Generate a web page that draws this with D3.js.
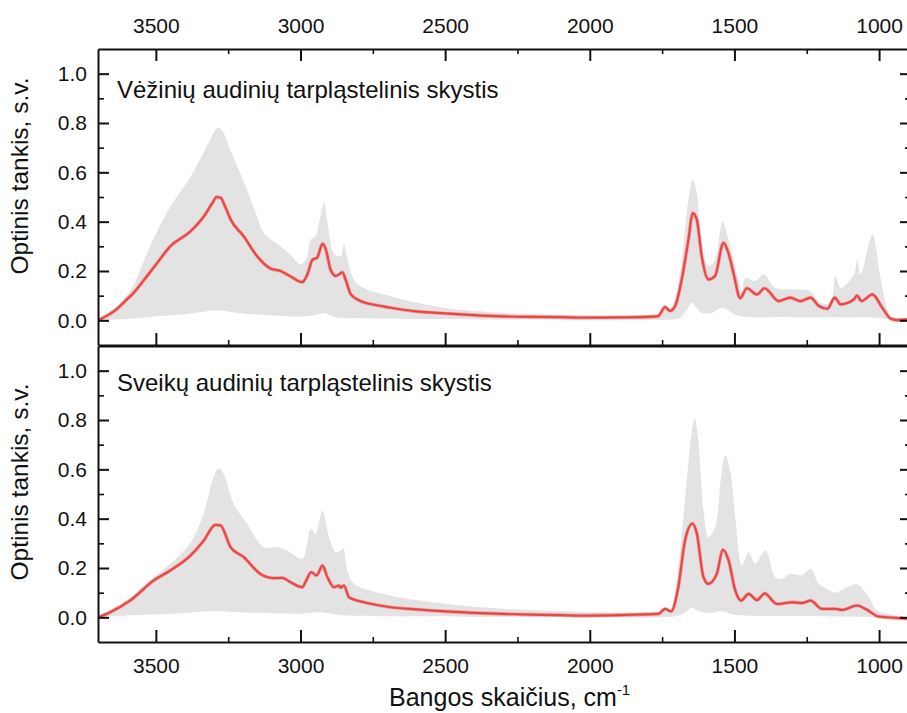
<!DOCTYPE html>
<html>
<head>
<meta charset="utf-8">
<script src="https://cdn.jsdelivr.net/npm/d3@7"></script>
<style>
  body { margin: 0; background: #fff; }
  text { font-family: "Liberation Sans", Arial, sans-serif; fill: #111; }
</style>
</head>
<body>
<div id="chart"></div>
<script>
// data: [wavenumber cm-1, optical density]
const cancerMean = [[3700,0.0],[3660,0.025],[3641,0.04],[3600,0.085],[3578,0.11],[3540,0.165],[3497,0.23],[3450,0.30],[3381,0.36],[3335,0.42],[3305,0.475],[3290,0.50],[3277,0.498],[3260,0.46],[3242,0.41],[3196,0.34],[3150,0.26],[3104,0.21],[3069,0.20],[3030,0.175],[2994,0.155],[2975,0.19],[2959,0.245],[2942,0.255],[2924,0.31],[2913,0.29],[2896,0.205],[2878,0.18],[2862,0.19],[2855,0.195],[2844,0.165],[2826,0.105],[2792,0.078],[2740,0.062],[2688,0.051],[2600,0.036],[2500,0.028],[2400,0.021],[2300,0.016],[2200,0.014],[2100,0.013],[2029,0.011],[1900,0.012],[1800,0.014],[1763,0.017],[1752,0.035],[1740,0.054],[1723,0.038],[1705,0.058],[1682,0.166],[1659,0.327],[1644,0.435],[1630,0.408],[1613,0.26],[1590,0.166],[1567,0.18],[1538,0.314],[1520,0.27],[1503,0.19],[1480,0.09],[1457,0.13],[1422,0.105],[1396,0.13],[1347,0.078],[1307,0.092],[1272,0.078],[1237,0.092],[1208,0.058],[1179,0.047],[1153,0.092],[1133,0.065],[1087,0.085],[1076,0.10],[1061,0.078],[1023,0.105],[989,0.051],[960,0.007],[937,0.001],[900,0.004]];
const cancerMax = [[3700,0.0],[3650,0.04],[3612,0.085],[3578,0.14],[3550,0.215],[3520,0.30],[3450,0.46],[3381,0.58],[3335,0.68],[3300,0.76],[3289,0.78],[3271,0.77],[3242,0.69],[3185,0.53],[3150,0.42],[3127,0.355],[3069,0.30],[3030,0.26],[3000,0.226],[2980,0.25],[2965,0.327],[2948,0.34],[2935,0.40],[2919,0.48],[2910,0.42],[2901,0.355],[2884,0.27],[2860,0.26],[2850,0.31],[2840,0.26],[2815,0.165],[2780,0.13],[2688,0.098],[2600,0.072],[2500,0.05],[2400,0.038],[2300,0.03],[2200,0.026],[2100,0.022],[2000,0.02],[1900,0.018],[1800,0.018],[1765,0.022],[1752,0.04],[1740,0.065],[1725,0.045],[1705,0.09],[1682,0.246],[1659,0.49],[1644,0.57],[1630,0.516],[1613,0.287],[1590,0.22],[1567,0.246],[1541,0.40],[1520,0.327],[1486,0.166],[1474,0.118],[1463,0.172],[1428,0.159],[1399,0.186],[1359,0.132],[1278,0.125],[1237,0.118],[1208,0.072],[1168,0.072],[1151,0.18],[1133,0.132],[1087,0.186],[1076,0.246],[1064,0.186],[1023,0.347],[1000,0.206],[983,0.098],[960,0.017],[931,0.011],[900,0.004]];
const cancerMin = [[3700,0.0],[3600,0.005],[3497,0.017],[3400,0.025],[3289,0.04],[3200,0.028],[3100,0.02],[3000,0.016],[2950,0.022],[2919,0.03],[2880,0.012],[2800,0.008],[2600,0.005],[2300,0.003],[2000,0.002],[1760,0.002],[1700,0.005],[1682,0.017],[1660,0.05],[1648,0.072],[1630,0.05],[1613,0.03],[1580,0.03],[1541,0.05],[1500,0.025],[1470,0.015],[1300,0.013],[1100,0.012],[1000,0.01],[960,0.002],[900,0.0]];

const healthyMean = [[3700,0.0],[3659,0.02],[3589,0.068],[3508,0.149],[3450,0.19],[3381,0.25],[3335,0.31],[3294,0.375],[3277,0.373],[3242,0.285],[3196,0.244],[3139,0.176],[3092,0.159],[3063,0.16],[3034,0.142],[2994,0.122],[2980,0.15],[2963,0.183],[2944,0.17],[2924,0.21],[2907,0.163],[2884,0.122],[2867,0.129],[2861,0.12],[2850,0.129],[2832,0.081],[2780,0.061],[2688,0.041],[2600,0.032],[2500,0.024],[2400,0.018],[2300,0.014],[2200,0.011],[2100,0.009],[2029,0.007],[1900,0.009],[1763,0.014],[1740,0.034],[1719,0.024],[1694,0.122],[1671,0.31],[1645,0.38],[1630,0.34],[1607,0.163],[1590,0.136],[1561,0.176],[1540,0.274],[1520,0.23],[1497,0.108],[1477,0.068],[1451,0.095],[1422,0.07],[1396,0.097],[1353,0.054],[1301,0.061],[1266,0.058],[1237,0.068],[1197,0.034],[1151,0.034],[1127,0.03],[1076,0.048],[1047,0.034],[1000,0.003],[942,-0.002],[900,-0.006]];
const healthyMax = [[3700,0.0],[3589,0.08],[3508,0.163],[3450,0.217],[3381,0.30],[3335,0.42],[3300,0.57],[3283,0.603],[3266,0.583],[3231,0.46],[3185,0.38],[3127,0.285],[3081,0.285],[3046,0.271],[2994,0.237],[2980,0.28],[2965,0.36],[2948,0.34],[2935,0.39],[2924,0.434],[2901,0.325],[2878,0.264],[2861,0.271],[2852,0.28],[2838,0.19],[2815,0.136],[2688,0.088],[2600,0.07],[2500,0.055],[2400,0.043],[2300,0.035],[2200,0.03],[2100,0.025],[2000,0.022],[1900,0.02],[1800,0.018],[1752,0.03],[1740,0.04],[1720,0.035],[1694,0.203],[1671,0.474],[1648,0.745],[1637,0.806],[1625,0.718],[1607,0.434],[1590,0.325],[1567,0.366],[1546,0.57],[1532,0.657],[1515,0.596],[1497,0.406],[1474,0.21],[1451,0.264],[1428,0.217],[1393,0.271],[1359,0.163],[1335,0.156],[1307,0.176],[1266,0.17],[1237,0.197],[1208,0.136],[1174,0.111],[1151,0.10],[1122,0.115],[1076,0.133],[1036,0.081],[1007,0.027],[966,0.014],[900,-0.002]];
const healthyMin = [[3700,0.0],[3589,0.008],[3450,0.015],[3294,0.025],[3200,0.02],[3000,0.015],[2924,0.02],[2850,0.008],[2700,0.004],[2300,0.002],[1760,0.0],[1700,0.005],[1665,0.025],[1648,0.04],[1625,0.025],[1580,0.018],[1541,0.025],[1500,0.01],[1300,0.005],[1000,0.0],[900,-0.005]];

const panelTitles = ["Vėžinių audinių tarpląstelinis skystis", "Sveikų audinių tarpląstelinis skystis"];
const xMajorTicks = [3500, 3000, 2500, 2000, 1500, 1000];
const xMinorTicks = [3250, 2750, 2250, 1750, 1250];
const yMajorTicks = [0, 0.2, 0.4, 0.6, 0.8, 1.0];
const yMinorTicks = [0.1, 0.3, 0.5, 0.7, 0.9];

// layout
const WIDTH = 907;
const HEIGHT = 713;
const LEFT = 98;
const RIGHT = 908;
const LINE_COLOR = "#e64848";
const BAND_COLOR = "#e3e3e3";

const panels = [
  { top: 49, bottom: 345, mean: cancerMean, hi: cancerMax, lo: cancerMin, title: panelTitles[0], titleY: 98, labelY: 176, topLabels: true, bottomLabels: false },
  { top: 346, bottom: 642, mean: healthyMean, hi: healthyMax, lo: healthyMin, title: panelTitles[1], titleY: 391, labelY: 482, topLabels: false, bottomLabels: true }
];

const svg = d3.select("#chart")
  .append("svg")
  .attr("width", WIDTH)
  .attr("height", HEIGHT);

const x = d3.scaleLinear().domain([3700, 900]).range([LEFT, RIGHT]);

svg.append("defs")
  .selectAll("clipPath")
  .data(panels)
  .enter()
  .append("clipPath")
  .attr("id", (d, i) => "clip" + i)
  .append("rect")
  .attr("x", LEFT)
  .attr("y", d => d.top)
  .attr("width", RIGHT - LEFT)
  .attr("height", d => d.bottom - d.top);

function styleAxis(g, width) {
  g.selectAll(".domain").attr("stroke", "#111").attr("stroke-width", 2);
  g.selectAll(".tick line").attr("stroke", "#111").attr("stroke-width", width);
  g.selectAll(".tick text").attr("font-size", 21).attr("fill", "#111")
    .attr("font-family", "'Liberation Sans', Arial, sans-serif");
}

panels.forEach((p, i) => {
  const y = d3.scaleLinear().domain([-0.1, 1.1]).range([p.bottom, p.top]);

  const line = d3.line()
    .x(d => x(d[0]))
    .y(d => y(d[1]))
    .curve(d3.curveMonotoneX);

  const band = d3.line()
    .x(d => x(d[0]))
    .y(d => y(d[1]))
    .curve(d3.curveCatmullRomClosed.alpha(0.5));

  const plot = svg.append("g").attr("clip-path", `url(#clip${i})`);

  // min–max band
  plot.append("path")
    .attr("d", band(p.hi.concat(p.lo.slice().reverse())))
    .attr("fill", BAND_COLOR)
    .attr("stroke", "none");

  // mean spectrum, soft halo under the line
  plot.append("path")
    .attr("d", line(p.mean))
    .attr("fill", "none")
    .attr("stroke", "#f3a0a0")
    .attr("stroke-width", 3.6)
    .attr("stroke-linejoin", "round");
  plot.append("path")
    .attr("d", line(p.mean))
    .attr("fill", "none")
    .attr("stroke", LINE_COLOR)
    .attr("stroke-width", 2.2)
    .attr("stroke-linejoin", "round");

  // top axis
  const gTop = svg.append("g").attr("transform", `translate(0,${p.top})`)
    .call(d3.axisTop(x).tickValues(xMajorTicks).tickSizeInner(p.topLabels ? -12 : 0).tickSizeOuter(0).tickPadding(16)
      .tickFormat(p.topLabels ? d3.format("d") : ""));
  styleAxis(gTop, 2);
  if (p.topLabels) {
    svg.append("g").attr("transform", `translate(0,${p.top})`)
      .call(d3.axisTop(x).tickValues(xMinorTicks).tickSizeInner(-5).tickSizeOuter(0).tickFormat(""))
      .call(g => g.select(".domain").remove())
      .call(g => styleAxis(g, 1.6));
  }

  // bottom axis
  const gBottom = svg.append("g").attr("transform", `translate(0,${p.bottom})`)
    .call(d3.axisBottom(x).tickValues(xMajorTicks).tickSizeInner(-12).tickSizeOuter(0).tickPadding(16)
      .tickFormat(p.bottomLabels ? d3.format("d") : ""));
  styleAxis(gBottom, 2);
  svg.append("g").attr("transform", `translate(0,${p.bottom})`)
    .call(d3.axisBottom(x).tickValues(xMinorTicks).tickSizeInner(-5).tickSizeOuter(0).tickFormat(""))
    .call(g => g.select(".domain").remove())
    .call(g => styleAxis(g, 1.6));

  // left axis
  const gLeft = svg.append("g").attr("transform", `translate(${LEFT},0)`)
    .call(d3.axisLeft(y).tickValues(yMajorTicks).tickSizeInner(-11).tickSizeOuter(0).tickPadding(11)
      .tickFormat(d3.format(".1f")));
  styleAxis(gLeft, 2);
  svg.append("g").attr("transform", `translate(${LEFT},0)`)
    .call(d3.axisLeft(y).tickValues(yMinorTicks).tickSizeInner(-6).tickSizeOuter(0).tickFormat(""))
    .call(g => g.select(".domain").remove())
    .call(g => styleAxis(g, 1.6));

  // right axis
  const gRight = svg.append("g").attr("transform", `translate(${RIGHT},0)`)
    .call(d3.axisRight(y).tickValues(yMajorTicks).tickSizeInner(-8).tickSizeOuter(0).tickFormat(""));
  styleAxis(gRight, 2);
  svg.append("g").attr("transform", `translate(${RIGHT},0)`)
    .call(d3.axisRight(y).tickValues(yMinorTicks).tickSizeInner(-3).tickSizeOuter(0).tickFormat(""))
    .call(g => g.select(".domain").remove())
    .call(g => styleAxis(g, 1.6));

  // panel title
  svg.append("text")
    .attr("x", 117)
    .attr("y", p.titleY)
    .attr("font-size", 24)
    .text(p.title);

  // y axis title
  svg.append("text")
    .attr("transform", `translate(28,${p.labelY}) rotate(-90)`)
    .attr("text-anchor", "middle")
    .attr("font-size", 24.5)
    .text("Optinis tankis, s.v.");
});

// x axis title
const xTitle = svg.append("text")
  .attr("x", 389)
  .attr("y", 706)
  .attr("font-size", 25)
  .text("Bangos skaičius, cm");
xTitle.append("tspan")
  .attr("dy", -11)
  .attr("font-size", 15)
  .text("-1");
</script>
</body>
</html>
